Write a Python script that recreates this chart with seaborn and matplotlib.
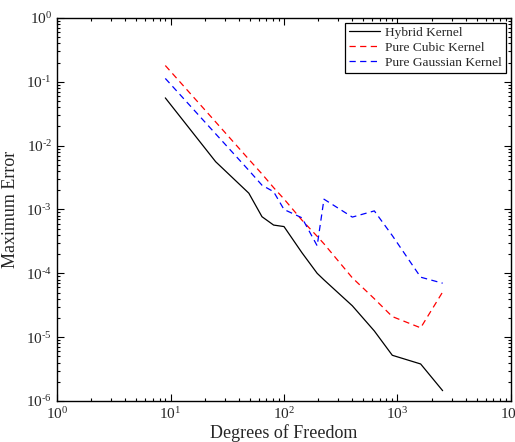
import seaborn as sns
import pandas as pd
import numpy as np
import matplotlib
matplotlib.use("Agg")
import matplotlib.pyplot as plt
from matplotlib.ticker import LogLocator, NullFormatter, FuncFormatter

# degrees of freedom (shared by all three kernels)
dof = [9, 25, 49, 64, 81, 100, 144, 196, 225, 400, 625, 900, 1600, 2500]

hybrid = [0.056, 0.0056, 0.0018, 7.7e-4, 5.7e-4, 5.4e-4, 2.1e-4, 1.0e-4,
          7.9e-5, 3.1e-5, 1.25e-5, 5.2e-6, 3.8e-6, 1.45e-6]
cubic = [0.18, 0.0235, 0.0061, 0.0036, 0.0022, 0.00146, 6.8e-4, 3.8e-4,
         2.9e-4, 8.5e-5, 4.0e-5, 2.1e-5, 1.4e-5, 5.1e-5]
gaussian = [0.113, 0.0153, 0.0041, 2.4e-3, 1.9e-3, 1.0e-3, 7.4e-4, 2.7e-4,
            1.45e-3, 7.6e-4, 9.5e-4, 3.9e-4, 8.7e-5, 7.0e-5]

labels = ["Hybrid Kernel", "Pure Cubic Kernel", "Pure Gaussian Kernel"]
colors = ["black", "red", "blue"]


def pow_label(v, pos):
    e = int(round(np.log10(v)))
    if e < 0:
        return r"$\mathdefault{10^{\text{-}%d}}$" % (-e)
    return r"$\mathdefault{10^{%d}}$" % e


def plot():
    df = pd.DataFrame({"dof": dof, labels[0]: hybrid, labels[1]: cubic, labels[2]: gaussian})
    sns.set_theme(style="ticks")
    plt.rcParams['font.family'] = ['Liberation Serif', 'DejaVu Serif']
    plt.rcParams['mathtext.fontset'] = 'stix'

    fig = plt.figure(figsize=(5.15, 4.42), dpi=100)
    ax = fig.add_axes([0.1107, 0.0928, 0.8815, 0.8665])

    for lab, col in zip(labels, colors):
        if col == "black":
            sns.lineplot(x="dof", y=lab, data=df, ax=ax, color=col, lw=0.9, label=lab)
        else:
            sns.lineplot(x="dof", y=lab, data=df, ax=ax, color=col, lw=0.9, label=lab,
                         dashes=False, linestyle=(0, (5, 3.5)))

    ax.set_xscale("log")
    ax.set_yscale("log")
    ax.set_xlim(1, 1e4)
    ax.set_ylim(1e-6, 1)
    ax.xaxis.set_major_locator(LogLocator(base=10, numticks=10))
    ax.yaxis.set_major_locator(LogLocator(base=10, numticks=10))
    ax.xaxis.set_minor_locator(LogLocator(base=10, subs=range(2, 10), numticks=20))
    ax.yaxis.set_minor_locator(LogLocator(base=10, subs=range(2, 10), numticks=20))
    ax.xaxis.set_major_formatter(FuncFormatter(pow_label))
    ax.yaxis.set_major_formatter(FuncFormatter(pow_label))
    ax.xaxis.set_minor_formatter(NullFormatter())
    ax.yaxis.set_minor_formatter(NullFormatter())
    ax.tick_params(which="both", direction="in", top=True, right=True, labelsize=11,
                   color="black", width=0.8)
    ax.tick_params(which="major", length=5)
    ax.tick_params(which="minor", length=2.5)
    for s in ax.spines.values():
        s.set_linewidth(1.0)
        s.set_color("black")

    ax.set_xlabel("Degrees of Freedom", fontsize=13, labelpad=2)
    ax.set_ylabel("Maximum Error", fontsize=13)
    ax.yaxis.set_label_coords(-0.084, 0.5)

    leg = ax.legend(loc="upper right", fontsize=9.6, frameon=True, fancybox=False,
                    edgecolor="black", handlelength=2.3, borderaxespad=0.35,
                    labelspacing=0.2, borderpad=0.3, handletextpad=0.4)
    leg.get_frame().set_linewidth(0.9)
    leg.get_frame().set_alpha(1)

    fig.savefig("out.png", dpi=100)


if __name__ == '__main__':
    plot()
